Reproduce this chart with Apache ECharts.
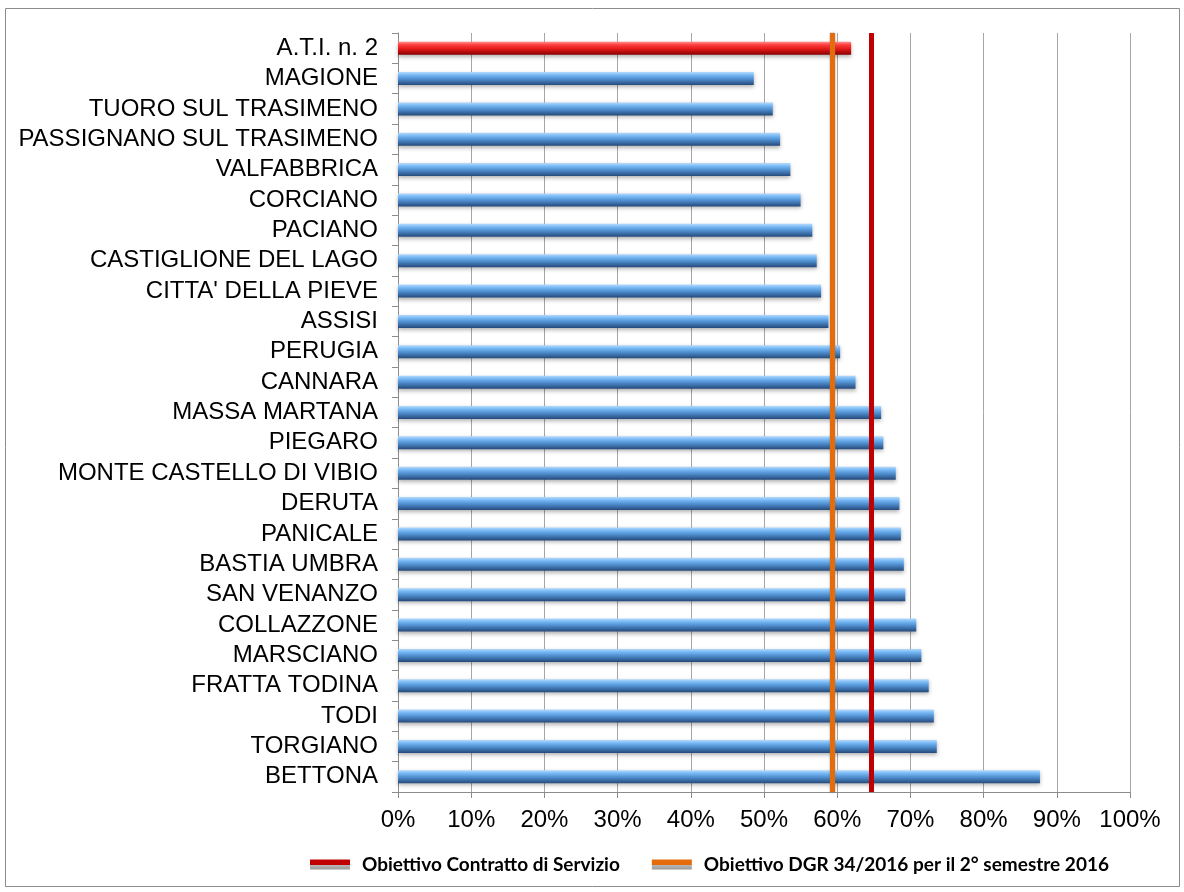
<!DOCTYPE html>
<html>
<head>
<meta charset="utf-8">
<script src="https://cdn.jsdelivr.net/npm/echarts@6/dist/echarts.min.js"></script>
<style>
html,body{margin:0;padding:0;background:#fff;}
#chart{width:1184px;height:892px;}
</style>
</head>
<body>
<div id="chart"></div>
<script>
const categories = ["A.T.I. n. 2","MAGIONE","TUORO SUL TRASIMENO","PASSIGNANO SUL TRASIMENO","VALFABBRICA","CORCIANO","PACIANO","CASTIGLIONE DEL LAGO","CITTA' DELLA PIEVE","ASSISI","PERUGIA","CANNARA","MASSA MARTANA","PIEGARO","MONTE CASTELLO DI VIBIO","DERUTA","PANICALE","BASTIA UMBRA","SAN VENANZO","COLLAZZONE","MARSCIANO","FRATTA TODINA","TODI","TORGIANO","BETTONA"];
const values = [61.9,48.6,51.2,52.2,53.6,55.0,56.6,57.2,57.8,58.8,60.4,62.5,66.0,66.3,68.0,68.5,68.7,69.1,69.3,70.8,71.5,72.5,73.2,73.6,87.7];
const xTicks = [0,10,20,30,40,50,60,70,80,90,100];
const targetContratto = 64.6;
const targetDGR = 59.3;
const seriesNames = ["Obiettivo Contratto di Servizio","Obiettivo DGR 34/2016 per il 2° semestre 2016"];

const blueGrad = new echarts.graphic.LinearGradient(0,0,0,1,[
  {offset:0,color:'#b5dafc'},{offset:0.25,color:'#74b6f4'},{offset:0.55,color:'#4e8ccc'},{offset:1,color:'#24497a'}]);
const redGrad = new echarts.graphic.LinearGradient(0,0,0,1,[
  {offset:0,color:'#ff9090'},{offset:0.25,color:'#ff3c3c'},{offset:0.55,color:'#e21a1a'},{offset:1,color:'#8a0000'}]);
function iconGrad(c){
  return new echarts.graphic.LinearGradient(0,0,0,1,[
    {offset:0,color:c},{offset:0.55,color:c},{offset:0.56,color:'#b8b8b8'},{offset:1,color:'#9a9a9a'}]);
}

const chart = echarts.init(document.getElementById('chart'));
chart.setOption({
  animation:false,
  backgroundColor:'#fff',
  graphic:[{type:'rect',shape:{x:5.5,y:8.5,width:1174,height:878},style:{fill:'none',stroke:'#8c8c8c',lineWidth:1},z:-1}],
  grid:{left:398,right:54,top:33,bottom:100,containLabel:false},
  legend:{
    top:850,left:305,itemWidth:40,itemHeight:10,itemGap:32,
    icon:'rect',
    textStyle:{fontFamily:'Lato,"Liberation Sans Narrow",sans-serif',fontWeight:'bold',fontSize:19,color:'#000',padding:[0,0,0,7]},
    data:[
      {name:seriesNames[0],itemStyle:{color:iconGrad('#c00000')}},
      {name:seriesNames[1],itemStyle:{color:iconGrad('#e46c0a')}}
    ]
  },
  xAxis:{
    type:'value',min:0,max:100,interval:10,
    axisLine:{show:true,lineStyle:{color:'#8c8c8c'}},
    axisTick:{show:true,length:6,lineStyle:{color:'#8c8c8c'}},
    axisLabel:{formatter:v=>xTicks.includes(v)?v+'%':'',fontFamily:'"Liberation Sans",Arial,sans-serif',fontSize:24,color:'#000',margin:16},
    splitLine:{show:true,lineStyle:{color:'#a6a6a6',width:1}}
  },
  yAxis:{
    type:'category',data:categories,inverse:true,
    axisLine:{show:true,lineStyle:{color:'#8c8c8c'}},
    axisTick:{show:true,length:6,lineStyle:{color:'#8c8c8c'}},
    axisLabel:{interval:0,fontFamily:'"Liberation Sans",Arial,sans-serif',fontSize:24,color:'#000',margin:20}
  },
  series:[
    {
      type:'bar',name:'values',barWidth:13,
      data:values.map((v,i)=>({value:v,itemStyle:{color:i===0?redGrad:blueGrad,shadowColor:'rgba(0,0,0,0.3)',shadowBlur:4,shadowOffsetY:2}})),
      z:2
    },
    {
      type:'line',name:seriesNames[0],data:[],color:'#c00000',
      markLine:{symbol:'none',silent:true,label:{show:false},
        lineStyle:{color:'#c00000',width:5,type:'solid'},
        data:[{xAxis:targetContratto}]},
      z:5
    },
    {
      type:'line',name:seriesNames[1],data:[],color:'#e46c0a',
      markLine:{symbol:'none',silent:true,label:{show:false},
        lineStyle:{color:'#e46c0a',width:5,type:'solid',shadowColor:'rgba(110,110,110,0.8)',shadowBlur:2},
        data:[{xAxis:targetDGR}]},
      z:5
    }
  ]
});
</script>
</body>
</html>
